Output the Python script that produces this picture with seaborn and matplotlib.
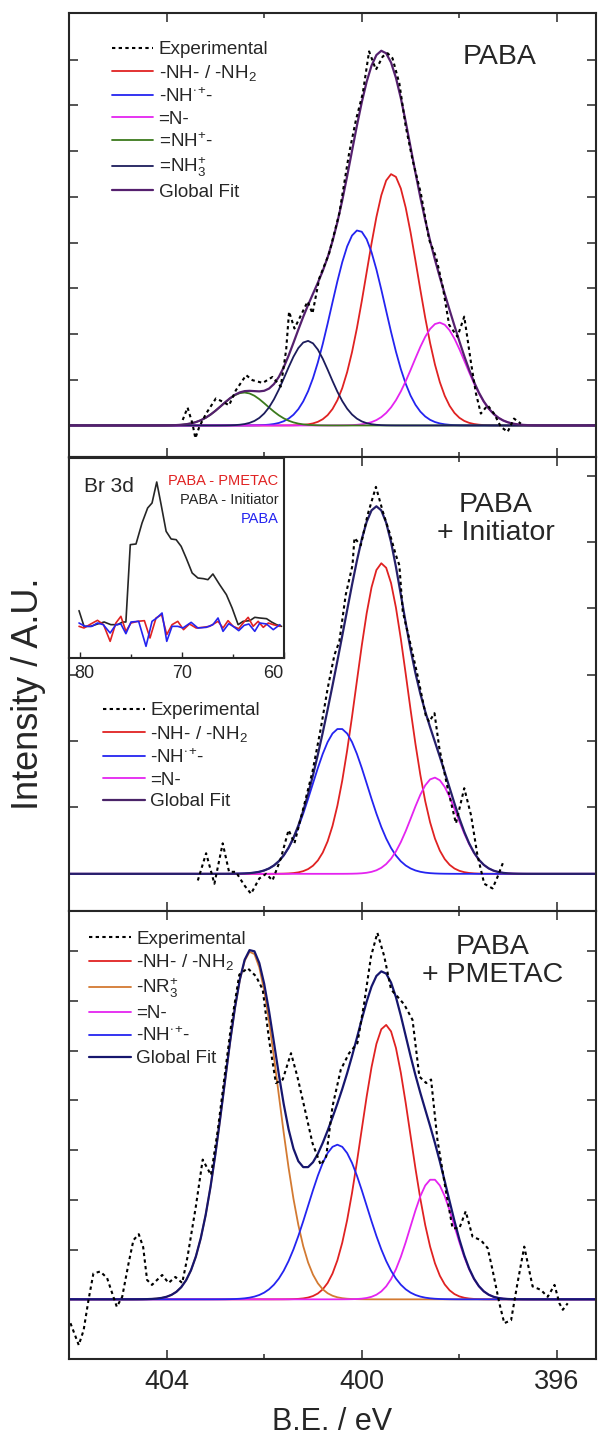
import numpy as np
import matplotlib
matplotlib.use("Agg")
import matplotlib.pyplot as plt
import matplotlib.transforms as mtransforms
import seaborn as sns
from matplotlib.lines import Line2D

# ---------------- data ----------------
# Panel 1: PABA
paba_be = [403.67, 403.57, 403.47, 403.41, 403.33, 403.19, 402.99, 402.85, 402.72, 402.58,
           402.37, 402.24, 402.03, 401.83, 401.66, 401.55, 401.49, 401.38, 401.21, 401.11,
           401.01, 400.87, 400.67, 400.46, 400.26, 400.12, 399.98, 399.85, 399.71, 399.57,
           399.47, 399.37, 399.23, 399.10, 398.96, 398.79, 398.62, 398.48, 398.34, 398.21,
           398.04, 397.90, 397.76, 397.66, 397.56, 397.42, 397.29, 397.15, 397.01, 396.88,
           396.74]
paba_exp = [0.12, 0.39, 0.04, -0.28, -0.03, 0.26, 0.59, 0.52, 0.44, 0.77,
            1.10, 0.99, 0.93, 1.06, 0.85, 1.65, 2.49, 2.12, 2.49, 2.71,
            2.45, 3.22, 3.76, 4.64, 5.95, 6.68, 7.26, 8.18, 7.78, 8.07,
            8.14, 8.03, 7.48, 6.54, 5.81, 5.08, 4.06, 3.69, 3.03, 2.20,
            1.94, 2.38, 1.36, 0.70, 0.26, 0.44, 0.26, -0.03, -0.14, 0.15,
            0.04]
paba_labels = ['-NH- / -NH$_2$', '-NH$^{\\cdot}$$^{+}$-', '=N-', '=NH$^{+}$-', '=NH$_3^{+}$']
paba_center = [399.38, 400.07, 398.41, 402.41, 401.11]
paba_height = [5.50, 4.27, 2.25, 0.72, 1.85]
paba_fwhm = [1.23, 1.30, 1.25, 1.09, 1.06]
paba_colors = ['#e02222', '#2424f0', '#e424f0', '#3b7a1c', '#1c1c5c']
paba_fit_color = '#55206e'

# Panel 2: PABA + Initiator
init_be = [403.36, 403.19, 403.02, 402.85, 402.72, 402.58, 402.41, 402.27, 402.10, 401.96,
           401.83, 401.66, 401.50, 401.38, 401.18, 401.01, 400.84, 400.70, 400.56, 400.46,
           400.33, 400.19, 400.15, 400.02, 399.88, 399.71, 399.57, 399.44, 399.30, 399.23,
           399.16, 399.03, 398.86, 398.69, 398.62, 398.51, 398.41, 398.24, 398.07, 397.90,
           397.76, 397.63, 397.49, 397.32, 397.22, 397.11]
init_exp = [-0.10, 0.31, -0.15, 0.46, 0.03, 0.03, -0.17, -0.30, -0.07, 0.00,
            -0.10, 0.23, 0.66, 0.46, 1.04, 1.54, 2.19, 2.79, 3.30, 3.50,
            4.20, 4.65, 5.06, 4.95, 5.41, 5.83, 5.46, 5.16, 4.80, 4.65,
            3.95, 3.55, 3.00, 2.39, 2.29, 2.42, 1.89, 1.29, 0.76, 1.29,
            0.88, 0.28, -0.15, -0.22, -0.05, 0.16]
init_labels = ['-NH- / -NH$_2$', '-NH$^{\\cdot}$$^{+}$-', '=N-']
init_center = [399.59, 400.45, 398.51]
init_height = [4.68, 2.19, 1.45]
init_fwhm = [1.23, 1.33, 1.09]
init_colors = ['#e02222', '#2424f0', '#e424f0']
init_fit_color = '#26206a'

# Panel 3: PABA + PMETAC
pmetac_be = [405.97, 405.80, 405.70, 405.60, 405.50, 405.36, 405.22, 405.09, 405.02, 404.91,
             404.78, 404.68, 404.57, 404.48, 404.40, 404.30, 404.09, 403.96, 403.82, 403.68,
             403.57, 403.40, 403.26, 403.09, 402.95, 402.82, 402.68, 402.51, 402.34, 402.17,
             402.03, 401.90, 401.76, 401.62, 401.45, 401.32, 401.18, 401.01, 400.84, 400.73,
             400.60, 400.43, 400.26, 400.09, 399.95, 399.81, 399.68, 399.54, 399.40, 399.27,
             399.13, 398.96, 398.82, 398.68, 398.58, 398.45, 398.28, 398.14, 398.00, 397.87,
             397.73, 397.56, 397.42, 397.32, 397.18, 397.08, 396.94, 396.81, 396.67, 396.57,
             396.50, 396.33, 396.19, 396.05, 395.95, 395.88, 395.78]
pmetac_exp = [-0.48, -0.92, -0.62, -0.01, 0.52, 0.56, 0.43, 0.05, -0.15, 0.05,
              0.72, 1.19, 1.31, 1.05, 0.39, 0.29, 0.49, 0.33, 0.45, 0.33,
              0.86, 1.87, 2.81, 2.50, 3.41, 4.42, 5.49, 6.53, 6.66, 6.50,
              6.23, 5.22, 4.35, 4.42, 4.95, 4.48, 3.88, 3.14, 2.70, 2.87,
              3.88, 4.62, 4.95, 5.15, 5.96, 6.90, 7.37, 6.90, 6.23, 6.09,
              5.93, 5.62, 4.48, 4.35, 4.42, 3.21, 2.20, 1.43, 1.43, 1.77,
              1.26, 1.19, 1.03, 0.59, -0.08, -0.48, -0.42, 0.32, 1.06, 0.59,
              0.26, 0.19, 0.05, 0.29, -0.08, -0.21, -0.08]
pmetac_labels = ['-NH- / -NH$_2$', '-NR$_3^{+}$', '=N-', '-NH$^{\\cdot}$$^{+}$-']
pmetac_center = [399.51, 402.27, 398.55, 400.50]
pmetac_height = [5.52, 7.00, 2.42, 3.11]
pmetac_fwhm = [1.18, 1.30, 1.06, 1.41]
pmetac_colors = ['#e02222', '#d37a32', '#e424f0', '#2424f0']
pmetac_fit_color = '#16166e'

# Inset: Br 3d
br_black_be = [80.07, 79.58, 78.92, 78.26, 77.61, 76.95, 76.29, 75.80, 75.48, 75.05,
               74.49, 73.90, 73.35, 72.92, 72.46, 72.03, 71.54, 71.05, 70.56, 70.07,
               69.58, 68.99, 68.43, 67.88, 67.45, 66.96, 66.30, 65.64, 65.08, 64.49,
               64.00, 63.35, 62.86, 62.37, 61.71, 61.22, 60.73, 60.24]
br_black = [0.47, 0.00, 0.00, 0.07, 0.13, 0.05, 0.05, 0.13, 0.13, 2.45,
            2.47, 3.10, 3.55, 3.70, 4.33, 3.65, 2.85, 2.62, 2.60, 2.40,
            2.05, 1.60, 1.45, 1.43, 1.40, 1.57, 1.25, 0.95, 0.55, 0.05,
            0.15, 0.17, 0.27, 0.25, 0.23, 0.13, 0.05, 0.00]
br_red_be = [80.07, 79.58, 78.92, 78.26, 77.67, 77.02, 76.46, 75.97, 75.48, 74.98,
             74.33, 73.67, 73.12, 72.53, 71.98, 71.48, 70.96, 70.40, 69.84, 69.25,
             68.60, 67.94, 67.28, 66.46, 65.97, 65.48, 64.98, 64.43, 64.00, 63.51,
             63.02, 62.53, 62.03, 61.54, 61.05, 60.40]
br_red = [0.00, -0.05, 0.07, 0.18, 0.05, -0.45, 0.10, 0.30, -0.15, 0.10,
          0.15, 0.17, -0.35, 0.25, 0.35, -0.25, 0.05, 0.15, -0.10, 0.07,
          -0.05, -0.03, 0.00, 0.15, -0.05, 0.17, 0.00, -0.07, 0.10, 0.27,
          0.00, 0.15, -0.03, 0.10, 0.05, 0.00]
br_blue_be = [80.07, 79.48, 78.82, 78.26, 77.70, 77.02, 76.46, 75.97, 75.48, 74.98,
              74.23, 73.51, 72.92, 72.46, 71.94, 71.48, 70.96, 70.40, 69.90, 69.09,
              68.43, 67.61, 66.96, 66.46, 65.97, 65.41, 64.98, 64.43, 63.90, 63.44,
              62.86, 62.37, 61.71, 61.05, 60.40]
br_blue = [0.10, 0.00, 0.00, 0.10, 0.05, -0.20, 0.05, 0.07, -0.22, 0.13,
           0.15, -0.60, 0.15, 0.25, 0.40, -0.45, 0.00, 0.00, -0.05, 0.12,
           -0.05, -0.03, 0.05, 0.25, -0.15, 0.08, 0.00, -0.13, 0.03, 0.07,
           -0.15, 0.10, 0.07, -0.10, 0.05]

# ---------------- style ----------------
sns.set_style("ticks")
plt.rcParams['font.family'] = ['Liberation Sans', 'DejaVu Sans']
plt.rcParams['mathtext.fontset'] = 'custom'
plt.rcParams['mathtext.rm'] = 'Liberation Sans'
plt.rcParams['mathtext.it'] = 'Liberation Sans:italic'
plt.rcParams['mathtext.bf'] = 'Liberation Sans:bold'

W, H = 601, 1438
fig = plt.figure(figsize=(W / 100, H / 100), dpi=100)

be_grid = np.round(np.arange(395.0, 406.35, 0.1), 2)
exp_dash = (0, (1.6, 1.6))


def gauss(x, c, h, fwhm):
    return h * np.exp(-4 * np.log(2) * (x - c) ** 2 / fwhm ** 2)


def px_axes(top, bottom):
    return fig.add_axes([69 / W, 1 - bottom / H, (596 - 69) / W, (bottom - top) / H])


def style_axes(ax, ylim, nticks, show_x=False):
    ax.set_xlim(406.0, 395.2)
    ax.set_ylim(*ylim)
    ax.set_xticks([404, 400, 396])
    ax.set_xticks([402, 398], minor=True)
    ax.set_yticks(range(0, nticks + 1))
    ax.tick_params(which='both', direction='in', top=True, right=True, bottom=True, left=True,
                   labelleft=False, labelbottom=show_x, labelsize=19.5, pad=7)
    ax.tick_params(which='major', length=6.5, width=1.1)
    ax.tick_params(which='minor', length=3.5, width=1.1)
    for s in ax.spines.values():
        s.set_linewidth(1.5)
    ax.set_xlabel('')
    ax.set_ylabel('')


def draw_panel(ax, be, exp, centers, heights, fwhms, colors, fit_color):
    total = np.zeros_like(be_grid)
    for c, h, w, col in zip(centers, heights, fwhms, colors):
        comp = gauss(be_grid, c, h, w)
        total += comp
        sns.lineplot(x=be_grid, y=comp, ax=ax, color=col, lw=1.3, estimator=None, sort=False)
    sns.lineplot(x=be_grid, y=total, ax=ax, color=fit_color, lw=1.6, estimator=None, sort=False)
    sns.lineplot(x=be, y=exp, ax=ax, color='black', lw=1.5, linestyle=exp_dash,
                 estimator=None, sort=False)


def add_legend(ax, labels, colors, fit_color, x0, y0):
    handles = [Line2D([], [], color='black', lw=1.5, linestyle=exp_dash)]
    handles += [Line2D([], [], color=c, lw=1.3) for c in colors]
    handles += [Line2D([], [], color=fit_color, lw=1.6)]
    names = ['Experimental'] + labels + ['Global Fit']
    ax.legend(handles, names, loc='upper left', bbox_to_anchor=(x0 / W, 1 - y0 / H),
              bbox_transform=fig.transFigure, frameon=False, fontsize=13.6, borderpad=0,
              borderaxespad=0, handlelength=2.2, handletextpad=0.28, labelspacing=0.24)


# Panel 1
ax1 = px_axes(13, 457)
draw_panel(ax1, paba_be, paba_exp, paba_center, paba_height, paba_fwhm, paba_colors, paba_fit_color)
style_axes(ax1, (-0.69, 9.02), 8)
add_legend(ax1, paba_labels, paba_colors, paba_fit_color, 111.7, 41)
fig.text(500 / W, 1 - 57 / H, 'PABA', ha='center', va='center', fontsize=20.5)

# Panel 2
ax2 = px_axes(457, 911)
draw_panel(ax2, init_be, init_exp, init_center, init_height, init_fwhm, init_colors, init_fit_color)
style_axes(ax2, (-0.56, 6.28), 6)
add_legend(ax2, init_labels, init_colors, '#4a2468', 103.3, 702)
fig.text(496 / W, 1 - 519 / H, 'PABA\n+ Initiator', ha='center', va='center', fontsize=20.5,
         multialignment='center', linespacing=1.15)

# Panel 3
ax3 = px_axes(911, 1359)
draw_panel(ax3, pmetac_be, pmetac_exp, pmetac_center, pmetac_height, pmetac_fwhm,
           pmetac_colors, pmetac_fit_color)
style_axes(ax3, (-1.20, 7.81), 7, show_x=True)
add_legend(ax3, pmetac_labels, pmetac_colors, pmetac_fit_color, 89.3, 930.5)
fig.text(493 / W, 1 - 961 / H, 'PABA\n+ PMETAC', ha='center', va='center', fontsize=20.5,
         multialignment='center', linespacing=1.1)

# Inset Br 3d
axi = fig.add_axes([69 / W, 1 - 658 / H, (284 - 69) / W, (658 - 458) / H])
sns.lineplot(x=br_black_be, y=br_black, ax=axi, color='#262626', lw=1.2, estimator=None, sort=False)
sns.lineplot(x=br_red_be, y=br_red, ax=axi, color='#e02222', lw=1.2, estimator=None, sort=False)
sns.lineplot(x=br_blue_be, y=br_blue, ax=axi, color='#2424f0', lw=1.2, estimator=None, sort=False)
axi.set_xlim(81.05, 60.0)
axi.set_ylim(-0.95, 5.05)
axi.set_xticks([80, 70, 60])
axi.set_xticks([75, 65], minor=True)
axi.set_yticks([])
axi.tick_params(which='both', direction='in', bottom=True, top=False, left=False, right=False,
                labelsize=13, pad=5)
axi.tick_params(which='major', length=4.5, width=1.0)
axi.tick_params(which='minor', length=3, width=1.0)
for s in axi.spines.values():
    s.set_linewidth(1.5)
axi.set_xlabel('')
axi.set_ylabel('')
fig.canvas.draw()
ilabels = axi.get_xticklabels()
ilabels[0].set_transform(ilabels[0].get_transform() +
                         mtransforms.ScaledTranslation(4.5 / 100, 0, fig.dpi_scale_trans))
ilabels[-1].set_horizontalalignment('right')
ilabels[-1].set_transform(ilabels[-1].get_transform() +
                          mtransforms.ScaledTranslation(-1 / 100, 0, fig.dpi_scale_trans))
axi.text(84.3 / W, 1 - 486 / H, 'Br 3d', transform=fig.transFigure, ha='left', va='center',
         fontsize=15, color='#262626')
axi.text(278.5 / W, 1 - 480.7 / H, 'PABA - PMETAC', transform=fig.transFigure, ha='right',
         va='center', fontsize=10.5, color='#e02222')
axi.text(278.5 / W, 1 - 500.5 / H, 'PABA - Initiator', transform=fig.transFigure, ha='right',
         va='center', fontsize=10.5, color='#262626')
axi.text(278.5 / W, 1 - 519.5 / H, 'PABA', transform=fig.transFigure, ha='right',
         va='center', fontsize=10.5, color='#2424f0')

# Axis labels
fig.text(332.5 / W, 1 - 1422 / H, 'B.E. / eV', ha='center', va='center', fontsize=22)
fig.text(29 / W, 1 - 694 / H, 'Intensity / A.U.', ha='center', va='center', fontsize=26,
         rotation=90)

fig.savefig('out.png', dpi=100)
